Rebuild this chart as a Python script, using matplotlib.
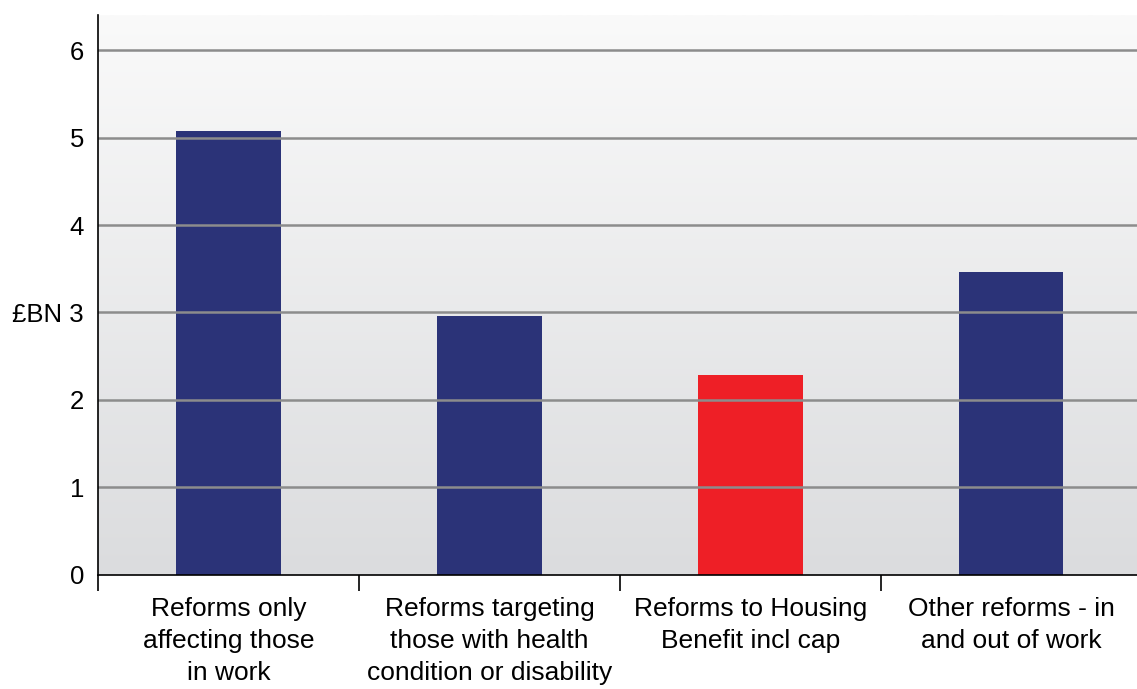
import matplotlib.pyplot as plt
import numpy as np
from matplotlib.colors import LinearSegmentedColormap

plt.rcParams['font.family'] = ['Liberation Sans', 'DejaVu Sans']

categories = ["Reforms only\naffecting those\nin work",
              "Reforms targeting\nthose with health\ncondition or disability",
              "Reforms to Housing\nBenefit incl cap",
              "Other reforms - in\nand out of work"]
values = [5.07, 2.96, 2.29, 3.46]
colors = ["#2b3378", "#2b3378", "#ee1f26", "#2b3378"]
yticks = [0, 1, 2, 3, 4, 5, 6]
ylabels = ["0", "1", "2", "£BN 3", "4", "5", "6"]

fig = plt.figure(figsize=(11.37, 6.89), dpi=100)
ax = fig.add_axes([0.0862, 0.1655, 0.918, 0.8127])

# background gradient
cmap = LinearSegmentedColormap.from_list("bg", ["#dbdcde", "#fafafa"])
grad = np.linspace(0, 1, 256).reshape(-1, 1)
ax.imshow(grad, cmap=cmap, origin="lower", aspect="auto",
          extent=[0, 1, 0, 1], transform=ax.transAxes, zorder=0)

x = np.arange(len(categories))
ax.bar(x, values, width=0.4, color=colors, zorder=2)

for y in yticks[1:]:
    ax.axhline(y, color="#8c8c8c", linewidth=1.8, zorder=3)

ax.set_xlim(-0.5, 3.5)
ax.set_ylim(0, 6.4)
ax.set_yticks(yticks)
ax.set_yticklabels(ylabels, fontsize=18.5)
ax.tick_params(axis="y", length=0, pad=10)

ax.set_xticks(x - 0.5, minor=False)
ax.set_xticklabels([])
ax.tick_params(axis="x", which="major", length=11.5, width=1.2, color="black")
ax.set_xticks(x, minor=True)
ax.set_xticklabels(categories, minor=True, fontsize=19, linespacing=1.41)
ax.tick_params(axis="x", which="minor", length=0, pad=16)

for s in ["top", "right"]:
    ax.spines[s].set_visible(False)
ax.spines["left"].set_linewidth(1.2)
ax.spines["bottom"].set_linewidth(1.2)
ax.spines["left"].set_zorder(4)
ax.spines["bottom"].set_zorder(4)

fig.savefig("out.png", dpi=100)
